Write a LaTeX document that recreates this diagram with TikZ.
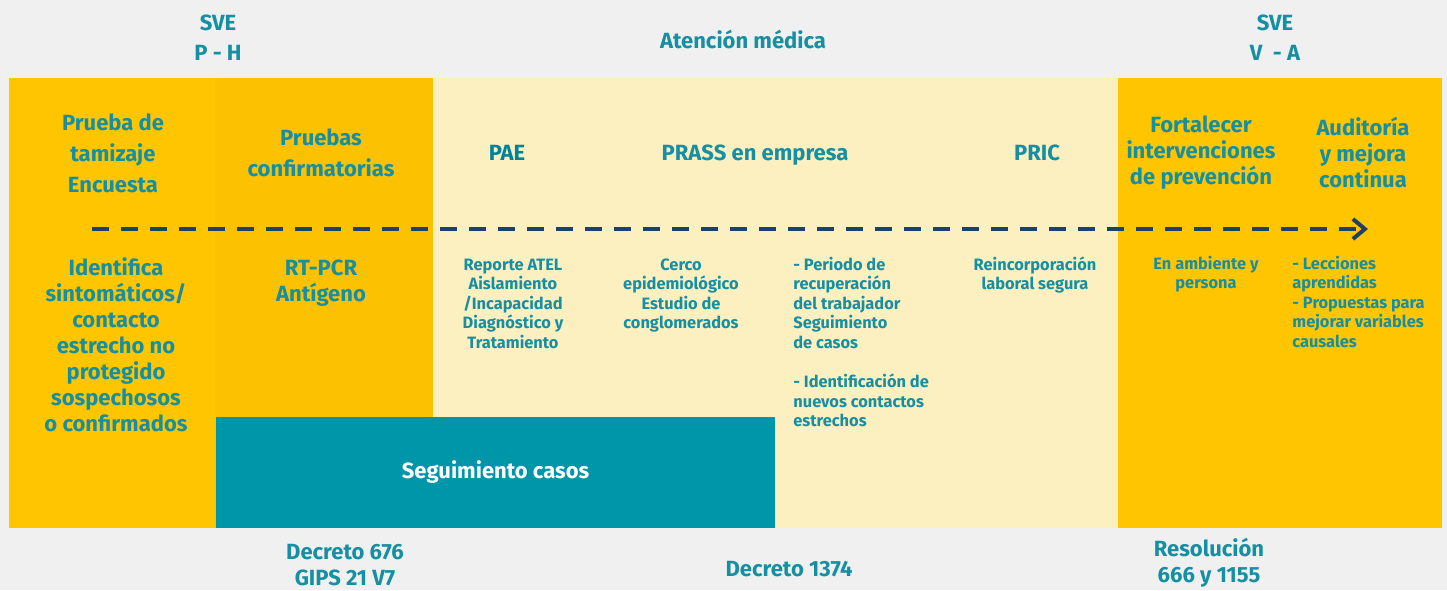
\documentclass[tikz,border=0pt]{standalone}
\usepackage{fontspec}
\setmainfont{Fira Sans}
\usetikzlibrary{arrows.meta}
\definecolor{bgc}{HTML}{F0F0F0}
\definecolor{orA}{HTML}{FFC600}
\definecolor{orB}{HTML}{FCC100}
\definecolor{cream}{HTML}{FCEFC0}
\definecolor{tealbox}{HTML}{0096A9}
\definecolor{txt}{HTML}{158FA1}
\definecolor{txtd}{HTML}{00829A}
\definecolor{navy}{HTML}{1B4266}
\begin{document}
\begin{tikzpicture}[x=0.5pt,y=-0.5pt,
  lbl/.style={text=txt, align=center, inner sep=0pt, anchor=base},
  top/.style={lbl, font=\bfseries\fontsize{11}{15}\selectfont},
  hdA/.style={lbl, font=\bfseries\fontsize{11}{15.5}\selectfont},
  bigt/.style={lbl, font=\bfseries\fontsize{11}{13}\selectfont},
  smt/.style={lbl, font=\bfseries\fontsize{8.2}{9.8}\selectfont},
  smleft/.style={smt, align=left, anchor=base west},
  segbox/.style={fill=tealbox, text=white, inner sep=0pt, minimum width=279.5pt, minimum height=55.5pt, font=\bfseries\fontsize{11}{13}\selectfont},
  flow/.style={navy, line width=2pt, dash pattern=on 8.5pt off 6pt, -{Straight Barb[length=6pt,width=10pt]}}
]
% note: with anchor=base the y given is the baseline of the LAST line
\fill[bgc] (0,0) rectangle (1447,590);
\useasboundingbox (0,0) rectangle (1447,590);
% bands
\fill[orA] (9,78) rectangle (216,528);
\fill[orB] (215,78) rectangle (433,528);
\fill[cream] (433,78) rectangle (1118,528);
\fill[orA] (1118,78) rectangle (1442,528);
% top labels
\node[top] (sve1) at (218,60) {SVE\\P - H};
\node[top] (aten) at (743,48) {Atención médica};
\node[top] (sve2) at (1275,60) {SVE\\V~~- A};
% header row
\node[hdA] (tam) at (113,192) {Prueba de\\tamizaje\\Encuesta};
\node[hdA] (conf) at (321,176) {Pruebas\\confirmatorias};
\node[hdA, text=txtd] (pae) at (507,160) {PAE};
\node[hdA] (prass) at (755,160) {PRASS en empresa};
\node[hdA] (pric) at (1037,160) {PRIC};
\node[bigt] (fort) at (1201,184) {Fortalecer\\intervenciones\\de prevención};
\node[bigt] (audi) at (1363,187) {Auditoría\\y mejora\\continua};
% arrow
\coordinate (a0) at (92,229);
\coordinate (a1) at (1368,229);
\draw[flow] (a0) -- (a1);
% lower row
\node[bigt] (ident) at (116,431) {Identifica\\sintomáticos/\\contacto\\estrecho no\\protegido\\sospechosos\\o confirmados};
\node[bigt] (rtpcr) at (321,301) {RT-PCR\\Antígeno};
\node[smt] (rep) at (513,348.4) {Reporte ATEL\\Aislamiento\\/Incapacidad\\Diagnóstico y\\Tratamiento};
\node[smt] (cerco) at (681,328.8) {Cerco\\epidemiológico\\Estudio de\\conglomerados};
\node[smleft] (peri) at (793,426.8) {- Periodo de\\recuperación\\del trabajador\\Seguimiento\\de casos\\[9.8pt]- Identificación de\\nuevos contactos\\estrechos};
\node[smt] (reinc) at (1035,289.6) {Reincorporación\\laboral segura};
\node[smt] (amb) at (1206,288.6) {En ambiente y\\persona};
\node[smleft] (lecc) at (1292,347.4) {- Lecciones\\aprendidas\\- Propuestas para\\mejorar variables\\causales};
% teal box
\node[segbox] (seg) at (495.5,472.5) {Seguimiento casos};
% bottom
\node[bigt] (dec676) at (345,585) {Decreto 676\\GIPS 21 V7};
\node[bigt] (dec1374) at (789,576) {Decreto 1374};
\node[bigt] (resol) at (1209,582) {Resolución\\666 y 1155};
\end{tikzpicture}
\end{document}
